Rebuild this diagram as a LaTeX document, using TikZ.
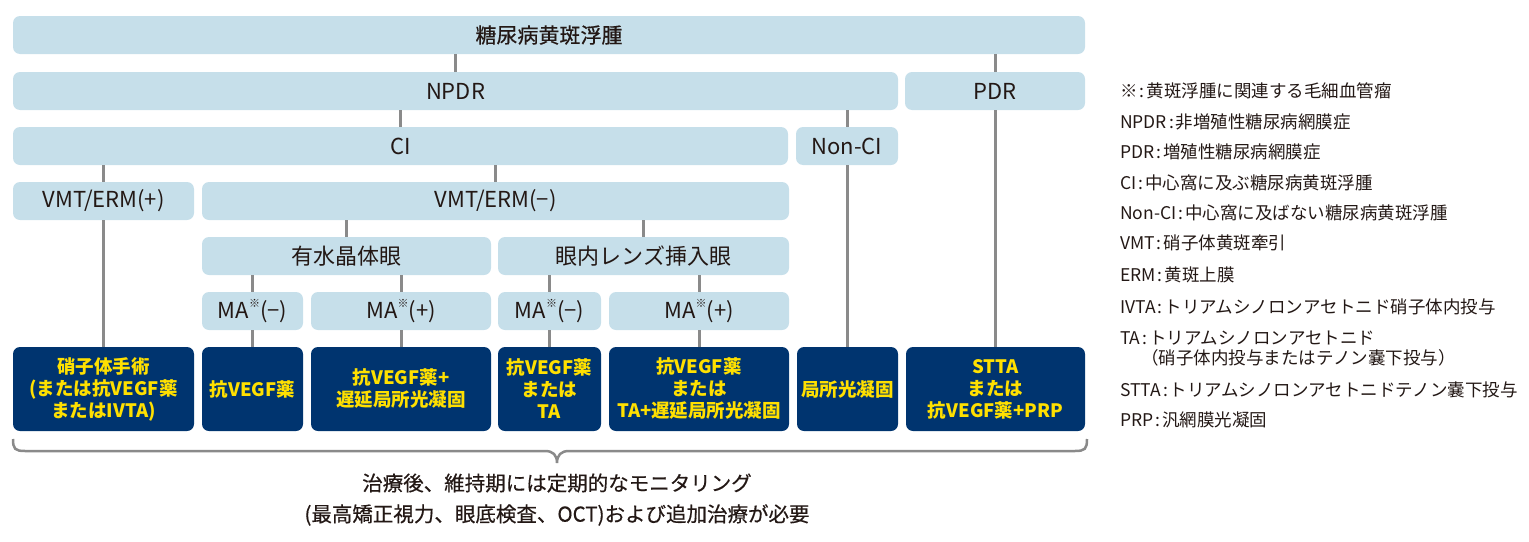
\documentclass[tikz,border=0pt]{standalone}
\usepackage{fontspec}
\setmainfont{Noto Sans CJK JP}
\newfontfamily\medfont{Noto Sans CJK JP}[FakeBold=0.5]
\definecolor{lb}{HTML}{C6DFEA}
\definecolor{nv}{HTML}{00346F}
\definecolor{yl}{HTML}{FFE000}
\definecolor{ln}{HTML}{8A8A8A}
\definecolor{tx}{HTML}{231815}
\newcommand{\kome}{\raisebox{0.5em}{\fontsize{11}{11}\selectfont ※}}
\newcommand{\cln}{\hspace{2pt}:\hspace{2pt}}
\begin{document}
\begin{tikzpicture}[x=1pt,y=-1pt,
  lbox/.style={fill=lb, rounded corners=7pt, minimum height=38pt, inner sep=0pt, text=tx, font=\fontsize{22}{26}\selectfont},
  dbox/.style={fill=nv, rounded corners=7pt, minimum height=84pt, inner sep=0pt, align=center, text=yl, font=\bfseries\fontsize{18.5}{22}\selectfont},
  conn/.style={draw=ln, line width=3pt},
  legend/.style={anchor=west, inner sep=0pt, text=tx, font=\fontsize{17.5}{21}\selectfont},
  note/.style={inner sep=0pt, text=tx, font=\medfont\fontsize{20.5}{24}\selectfont},
  brace/.style={draw=ln, line width=2.5pt}]
\useasboundingbox (0,0) rectangle (1529,541);
% row 1
\node[lbox, minimum width=1072pt, font=\medfont\fontsize{21}{25}\selectfont] (top) at (549,35) {糖尿病黄斑浮腫};
% row 2
\node[lbox, minimum width=885pt] (npdr) at (455.5,91) {NPDR};
\node[lbox, minimum width=180pt] (pdr) at (995,91) {PDR};
% row 3
\node[lbox, minimum width=775pt] (ci) at (400.5,146) {CI};
\node[lbox, minimum width=102pt] (nonci) at (847,146) {Non-CI};
% row 4
\node[lbox, minimum width=181pt] (vp) at (103.5,201) {VMT/ERM(+)};
\node[lbox, minimum width=587pt] (vm) at (495.5,201) {VMT/ERM(−)};
% row 5
\node[lbox, minimum width=289pt] (ul) at (346.5,256) {有水晶体眼};
\node[lbox, minimum width=291pt] (il) at (643.5,256) {眼内レンズ挿入眼};
% row 6
\node[lbox, minimum width=101pt] (ma1) at (252.5,311) {MA\kome(−)};
\node[lbox, minimum width=180pt] (ma2) at (401,311) {MA\kome(+)};
\node[lbox, minimum width=103pt] (ma3) at (549.5,311) {MA\kome(−)};
\node[lbox, minimum width=180pt] (ma4) at (699,311) {MA\kome(+)};
% row 7
\node[dbox, minimum width=181pt] (d1) at (103.5,389) {硝子体手術\\(または抗VEGF薬\\またはIVTA)};
\node[dbox, minimum width=101pt] (d2) at (252.5,389) {抗VEGF薬};
\node[dbox, minimum width=180pt] (d3) at (401,389) {抗VEGF薬+\\遅延局所光凝固};
\node[dbox, minimum width=103pt] (d4) at (549.5,389) {抗VEGF薬\\または\\TA};
\node[dbox, minimum width=180pt] (d5) at (699,389) {抗VEGF薬\\または\\TA+遅延局所光凝固};
\node[dbox, minimum width=101pt] (d6) at (847.5,389) {局所光凝固};
\node[dbox, minimum width=179pt] (d7) at (995.5,389) {STTA\\または\\抗VEGF薬+PRP};
% connectors
\foreach \p/\c in {top/npdr, top/pdr, npdr/ci, npdr/nonci, ci/vp, ci/vm, vm/ul, vm/il,
  ul/ma1, ul/ma2, il/ma3, il/ma4, vp/d1, ma1/d2, ma2/d3, ma3/d4, ma4/d5, nonci/d6, pdr/d7}
  \draw[conn] (\c.north) -- (\c.north |- \p.south);
% brace
\coordinate (bl) at (13,439);
\coordinate (br) at (1087,439);
\coordinate (bt) at (557,463);
\draw[brace] (bl) .. controls (13,449) and (15,451) .. (25,451) -- (545,451)
  .. controls (553,451) and (557,455) .. (bt)
  .. controls (557,455) and (561,451) .. (569,451) -- (1075,451)
  .. controls (1085,451) and (1087,449) .. (br);
\node[note] (n1) at (557,483) {治療後、維持期には定期的なモニタリング};
\node[note] (n2) at (557,515) {(最高矯正視力、眼底検査、OCT)および追加治療が必要};
% legend
\node[legend] (l1) at (1120,91) {※\cln 黄斑浮腫に関連する毛細血管瘤};
\node[legend] (l2) at (1120,122) {NPDR\cln 非増殖性糖尿病網膜症};
\node[legend] (l3) at (1120,152) {PDR\cln 増殖性糖尿病網膜症};
\node[legend] (l4) at (1120,183) {CI\cln 中心窩に及ぶ糖尿病黄斑浮腫};
\node[legend] (l5) at (1120,213) {Non-CI\cln 中心窩に及ばない糖尿病黄斑浮腫};
\node[legend] (l6) at (1120,243) {VMT\cln 硝子体黄斑牽引};
\node[legend] (l7) at (1120,275) {ERM\cln 黄斑上膜};
\node[legend] (l8) at (1120,307) {IVTA\cln トリアムシノロンアセトニド硝子体内投与};
\node[legend] (l9) at (1120,338) {TA\cln トリアムシノロンアセトニド};
\node[legend] (l9b) at (1141,358) {（硝子体内投与またはテノン嚢下投与）};
\node[legend] (l10) at (1120,390) {STTA\cln トリアムシノロンアセトニドテノン嚢下投与};
\node[legend] (l11) at (1120,420) {PRP\cln 汎網膜光凝固};
\end{tikzpicture}
\end{document}
